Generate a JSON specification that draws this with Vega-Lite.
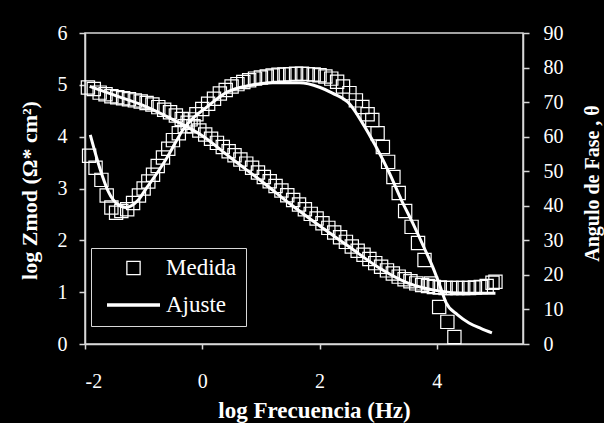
{
  "$schema": "https://vega.github.io/schema/vega-lite/v6.json",
  "autosize": {"type": "none"},
  "width": 438,
  "height": 311,
  "padding": {"left": 85, "top": 33, "right": 81, "bottom": 79},
  "background": "black",
  "config": {
    "font": "Liberation Serif",
    "view": {"stroke": "#d8d8d8", "strokeWidth": 1.5},
    "axis": {
      "domainColor": "#d8d8d8", "domainWidth": 1.5,
      "tickColor": "#d8d8d8", "tickWidth": 1.5, "tickSize": 6,
      "labelColor": "white", "labelFont": "Liberation Serif", "labelFontSize": 20,
      "titleColor": "white", "titleFont": "Liberation Serif", "titleFontSize": 22, "titleFontWeight": "bold",
      "grid": false
    }
  },
  "datasets": {
    "zmed": [
      {"f": -1.95, "v": 4.95, "serie": "Medida"}, {"f": -1.85, "v": 4.92, "serie": "Medida"},
      {"f": -1.75, "v": 4.85, "serie": "Medida"}, {"f": -1.65, "v": 4.82, "serie": "Medida"},
      {"f": -1.55, "v": 4.78, "serie": "Medida"}, {"f": -1.45, "v": 4.76, "serie": "Medida"},
      {"f": -1.35, "v": 4.74, "serie": "Medida"}, {"f": -1.25, "v": 4.72, "serie": "Medida"},
      {"f": -1.15, "v": 4.70, "serie": "Medida"}, {"f": -1.05, "v": 4.68, "serie": "Medida"},
      {"f": -0.95, "v": 4.65, "serie": "Medida"}, {"f": -0.85, "v": 4.62, "serie": "Medida"},
      {"f": -0.75, "v": 4.57, "serie": "Medida"}, {"f": -0.65, "v": 4.52, "serie": "Medida"},
      {"f": -0.55, "v": 4.47, "serie": "Medida"}, {"f": -0.45, "v": 4.41, "serie": "Medida"},
      {"f": -0.35, "v": 4.34, "serie": "Medida"}, {"f": -0.25, "v": 4.27, "serie": "Medida"},
      {"f": -0.15, "v": 4.20, "serie": "Medida"}, {"f": -0.05, "v": 4.12, "serie": "Medida"},
      {"f": 0.05, "v": 4.04, "serie": "Medida"}, {"f": 0.15, "v": 3.96, "serie": "Medida"},
      {"f": 0.25, "v": 3.88, "serie": "Medida"}, {"f": 0.35, "v": 3.80, "serie": "Medida"},
      {"f": 0.45, "v": 3.72, "serie": "Medida"}, {"f": 0.55, "v": 3.64, "serie": "Medida"},
      {"f": 0.65, "v": 3.56, "serie": "Medida"}, {"f": 0.75, "v": 3.48, "serie": "Medida"},
      {"f": 0.85, "v": 3.40, "serie": "Medida"}, {"f": 0.95, "v": 3.31, "serie": "Medida"},
      {"f": 1.05, "v": 3.22, "serie": "Medida"}, {"f": 1.15, "v": 3.14, "serie": "Medida"},
      {"f": 1.25, "v": 3.05, "serie": "Medida"}, {"f": 1.35, "v": 2.96, "serie": "Medida"},
      {"f": 1.45, "v": 2.87, "serie": "Medida"}, {"f": 1.55, "v": 2.78, "serie": "Medida"},
      {"f": 1.65, "v": 2.69, "serie": "Medida"}, {"f": 1.75, "v": 2.60, "serie": "Medida"},
      {"f": 1.85, "v": 2.51, "serie": "Medida"}, {"f": 1.95, "v": 2.42, "serie": "Medida"},
      {"f": 2.05, "v": 2.33, "serie": "Medida"}, {"f": 2.15, "v": 2.24, "serie": "Medida"},
      {"f": 2.25, "v": 2.15, "serie": "Medida"}, {"f": 2.35, "v": 2.06, "serie": "Medida"},
      {"f": 2.45, "v": 1.97, "serie": "Medida"}, {"f": 2.55, "v": 1.88, "serie": "Medida"},
      {"f": 2.65, "v": 1.80, "serie": "Medida"}, {"f": 2.75, "v": 1.72, "serie": "Medida"},
      {"f": 2.85, "v": 1.64, "serie": "Medida"}, {"f": 2.95, "v": 1.56, "serie": "Medida"},
      {"f": 3.05, "v": 1.49, "serie": "Medida"}, {"f": 3.15, "v": 1.42, "serie": "Medida"},
      {"f": 3.25, "v": 1.36, "serie": "Medida"}, {"f": 3.35, "v": 1.30, "serie": "Medida"},
      {"f": 3.45, "v": 1.25, "serie": "Medida"}, {"f": 3.55, "v": 1.21, "serie": "Medida"},
      {"f": 3.65, "v": 1.17, "serie": "Medida"}, {"f": 3.75, "v": 1.14, "serie": "Medida"},
      {"f": 3.85, "v": 1.12, "serie": "Medida"}, {"f": 3.95, "v": 1.10, "serie": "Medida"},
      {"f": 4.05, "v": 1.09, "serie": "Medida"}, {"f": 4.15, "v": 1.08, "serie": "Medida"},
      {"f": 4.25, "v": 1.08, "serie": "Medida"}, {"f": 4.35, "v": 1.08, "serie": "Medida"},
      {"f": 4.45, "v": 1.08, "serie": "Medida"}, {"f": 4.55, "v": 1.08, "serie": "Medida"},
      {"f": 4.65, "v": 1.09, "serie": "Medida"}, {"f": 4.75, "v": 1.10, "serie": "Medida"},
      {"f": 4.85, "v": 1.12, "serie": "Medida"}, {"f": 4.95, "v": 1.18, "serie": "Medida"},
      {"f": 5.0, "v": 1.2, "serie": "Medida"}
    ],
    "zfit": [
      {"f": -1.92, "v": 4.97}, {"f": -1.5, "v": 4.80}, {"f": -1.0, "v": 4.60},
      {"f": -0.5, "v": 4.33}, {"f": 0.0, "v": 4.02}, {"f": 0.5, "v": 3.58},
      {"f": 1.0, "v": 3.15}, {"f": 1.5, "v": 2.70}, {"f": 2.0, "v": 2.28},
      {"f": 2.5, "v": 1.88}, {"f": 3.0, "v": 1.48}, {"f": 3.5, "v": 1.18},
      {"f": 4.0, "v": 1.03}, {"f": 4.5, "v": 0.98}, {"f": 5.0, "v": 0.98}
    ],
    "pmed": [
      {"f": -1.93, "v": 54.5, "serie": "Medida"}, {"f": -1.82, "v": 51, "serie": "Medida"},
      {"f": -1.72, "v": 47.5, "serie": "Medida"}, {"f": -1.63, "v": 43, "serie": "Medida"},
      {"f": -1.55, "v": 39.5, "serie": "Medida"}, {"f": -1.47, "v": 38, "serie": "Medida"},
      {"f": -1.38, "v": 38.5, "serie": "Medida"}, {"f": -1.28, "v": 39, "serie": "Medida"},
      {"f": -1.18, "v": 40.8, "serie": "Medida"}, {"f": -1.08, "v": 43, "serie": "Medida"},
      {"f": -1.0, "v": 45, "serie": "Medida"}, {"f": -0.92, "v": 47, "serie": "Medida"},
      {"f": -0.84, "v": 49, "serie": "Medida"}, {"f": -0.76, "v": 51.5, "serie": "Medida"},
      {"f": -0.67, "v": 54, "serie": "Medida"}, {"f": -0.58, "v": 56.5, "serie": "Medida"},
      {"f": -0.5, "v": 59, "serie": "Medida"}, {"f": -0.4, "v": 61, "serie": "Medida"},
      {"f": -0.3, "v": 63, "serie": "Medida"}, {"f": -0.2, "v": 65, "serie": "Medida"},
      {"f": -0.1, "v": 66.5, "serie": "Medida"}, {"f": 0.0, "v": 68, "serie": "Medida"},
      {"f": 0.1, "v": 69.5, "serie": "Medida"}, {"f": 0.2, "v": 71, "serie": "Medida"},
      {"f": 0.3, "v": 72.5, "serie": "Medida"}, {"f": 0.4, "v": 73.5, "serie": "Medida"},
      {"f": 0.5, "v": 74.5, "serie": "Medida"}, {"f": 0.6, "v": 75.2, "serie": "Medida"},
      {"f": 0.7, "v": 75.8, "serie": "Medida"}, {"f": 0.8, "v": 76.3, "serie": "Medida"},
      {"f": 0.9, "v": 76.8, "serie": "Medida"}, {"f": 1.0, "v": 77.1, "serie": "Medida"},
      {"f": 1.1, "v": 77.4, "serie": "Medida"}, {"f": 1.2, "v": 77.7, "serie": "Medida"},
      {"f": 1.3, "v": 77.9, "serie": "Medida"}, {"f": 1.4, "v": 78.0, "serie": "Medida"},
      {"f": 1.5, "v": 78.1, "serie": "Medida"}, {"f": 1.6, "v": 78.2, "serie": "Medida"},
      {"f": 1.7, "v": 78.2, "serie": "Medida"}, {"f": 1.8, "v": 78.1, "serie": "Medida"},
      {"f": 1.9, "v": 78.0, "serie": "Medida"}, {"f": 2.0, "v": 77.8, "serie": "Medida"},
      {"f": 2.1, "v": 77.4, "serie": "Medida"}, {"f": 2.2, "v": 76.8, "serie": "Medida"},
      {"f": 2.3, "v": 75.9, "serie": "Medida"}, {"f": 2.4, "v": 74.5, "serie": "Medida"},
      {"f": 2.51, "v": 72.6, "serie": "Medida"}, {"f": 2.62, "v": 70.5, "serie": "Medida"},
      {"f": 2.73, "v": 68.6, "serie": "Medida"}, {"f": 2.82, "v": 66.5, "serie": "Medida"},
      {"f": 2.9, "v": 64.8, "serie": "Medida"}, {"f": 2.99, "v": 61, "serie": "Medida"},
      {"f": 3.08, "v": 57, "serie": "Medida"}, {"f": 3.17, "v": 52.7, "serie": "Medida"},
      {"f": 3.26, "v": 48.3, "serie": "Medida"}, {"f": 3.35, "v": 43.7, "serie": "Medida"},
      {"f": 3.46, "v": 38.5, "serie": "Medida"}, {"f": 3.57, "v": 33.9, "serie": "Medida"},
      {"f": 3.68, "v": 29.2, "serie": "Medida"}, {"f": 3.79, "v": 24.3, "serie": "Medida"},
      {"f": 3.9, "v": 17.5, "serie": "Medida"}, {"f": 4.04, "v": 10.7, "serie": "Medida"},
      {"f": 4.18, "v": 6.4, "serie": "Medida"}, {"f": 4.3, "v": 2.0, "serie": "Medida"}
    ],
    "pfit": [
      {"f": -1.91, "v": 60.5}, {"f": -1.75, "v": 51}, {"f": -1.6, "v": 44},
      {"f": -1.45, "v": 40.5}, {"f": -1.3, "v": 39.5}, {"f": -1.1, "v": 41.5},
      {"f": -0.94, "v": 45.4}, {"f": -0.75, "v": 50}, {"f": -0.6, "v": 54},
      {"f": -0.45, "v": 58.5}, {"f": -0.33, "v": 62}, {"f": -0.15, "v": 65.5},
      {"f": 0.08, "v": 68.6}, {"f": 0.42, "v": 72.9}, {"f": 0.8, "v": 74.8},
      {"f": 1.2, "v": 75.6}, {"f": 1.66, "v": 75.6}, {"f": 2.0, "v": 74.3},
      {"f": 2.22, "v": 72.6}, {"f": 2.51, "v": 69.5}, {"f": 2.73, "v": 64},
      {"f": 2.95, "v": 57.5}, {"f": 3.19, "v": 49.5}, {"f": 3.4, "v": 41.5},
      {"f": 3.59, "v": 35}, {"f": 3.78, "v": 28}, {"f": 3.93, "v": 22.3},
      {"f": 4.05, "v": 17}, {"f": 4.16, "v": 11.9}, {"f": 4.35, "v": 8.5},
      {"f": 4.55, "v": 6.1}, {"f": 4.75, "v": 4.5}, {"f": 4.94, "v": 3.2}
    ]
  },
  "encoding": {
    "x": {
      "field": "f", "type": "quantitative",
      "scale": {"domain": [-2, 5.47], "nice": false, "zero": false},
      "axis": {
        "values": [-2, 0, 2, 4], "tickSize": 5, "labelPadding": 22,
        "labelExpr": "datum.value < 0 ? '-' + abs(datum.value) : '' + datum.value",
        "title": "log Frecuencia (Hz)", "titleX": 229, "titleY": 73,
        "titleBaseline": "alphabetic", "titleFontSize": 23
      }
    }
  },
  "layer": [
    {
      "encoding": {
        "y": {
          "field": "v", "type": "quantitative",
          "scale": {"domain": [0, 6], "nice": false, "zero": false},
          "axis": {
            "values": [0, 1, 2, 3, 4, 5, 6], "labelPadding": 12,
            "title": "log Zmod (Ω* cm²)", "titleAngle": -90, "titleX": -56, "titleY": 157,
            "titleAlign": "center", "titleBaseline": "middle"
          }
        }
      },
      "layer": [
        {
          "data": {"name": "zmed"},
          "mark": {"type": "point", "filled": false, "color": "white", "strokeWidth": 1.2, "size": 2809, "opacity": 1},
          "encoding": {
            "shape": {
              "field": "serie", "type": "nominal",
              "scale": {"domain": ["Medida", "Ajuste"], "range": ["M-0.25,-0.25H0.25V0.25H-0.25Z", "M-1,-0.045H1M-1,0H1M-1,0.045H1"]},
              "legend": {
                "title": null, "orient": "none", "legendX": 6, "legendY": 215,
                "direction": "vertical",
                "strokeColor": "#d8d8d8", "fillColor": "black",
                "padding": 9, "symbolOffset": 6, "labelOffset": 5, "rowPadding": 14,
                "clipHeight": 22,
                "labelExpr": "datum.label + '  '",
                "symbolSize": 2809, "symbolStrokeColor": "white", "symbolFillColor": "transparent",
                "symbolStrokeWidth": 1.3,
                "labelColor": "white", "labelFont": "Liberation Serif", "labelFontSize": 23,
                "encode": {
                  "legend": {"update": {"strokeWidth": {"value": 1.5}}},
                  "symbols": {
                    "update": {
                      "stroke": {"value": "white"},
                      "fill": {"value": "transparent"},
                      "opacity": {"value": 1}
                    }
                  }
                }
              }
            }
          }
        },
        {
          "data": {"name": "zfit"},
          "mark": {"type": "line", "color": "white", "strokeWidth": 3, "interpolate": "monotone"}
        }
      ]
    },
    {
      "encoding": {
        "y": {
          "field": "v", "type": "quantitative",
          "scale": {"domain": [0, 90], "nice": false, "zero": false},
          "axis": {
            "orient": "right",
            "values": [0, 10, 20, 30, 40, 50, 60, 70, 80, 90], "labelPadding": 14,
            "title": "Angulo de Fase , θ", "titleAngle": -90, "titleX": 69, "titleY": 150,
            "titleAlign": "center", "titleBaseline": "middle", "titleFontSize": 20
          }
        }
      },
      "layer": [
        {
          "data": {"name": "pmed"},
          "mark": {"type": "point", "filled": false, "color": "white", "strokeWidth": 1.2, "size": 2809, "opacity": 1},
          "encoding": {
            "shape": {"field": "serie", "type": "nominal"}
          }
        },
        {
          "data": {"name": "pfit"},
          "mark": {"type": "line", "color": "white", "strokeWidth": 3, "interpolate": "monotone"}
        }
      ]
    }
  ],
  "resolve": {"scale": {"y": "independent"}}
}
